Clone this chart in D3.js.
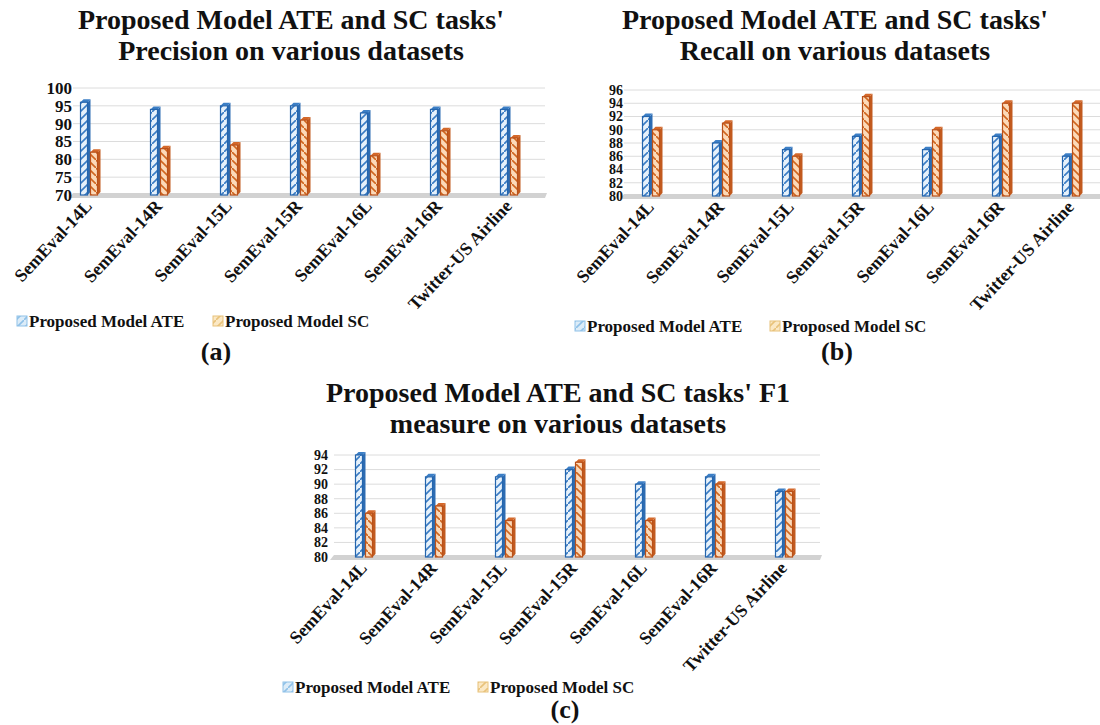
<!DOCTYPE html>
<html lang="en">
<head>
    <meta charset="UTF-8">
    <title>Proposed Model ATE and SC tasks</title>
    <script src="https://d3js.org/d3.v7.min.js"></script>
    <style>
        body { margin: 0; background: #fff; }
        text {
            font-family: "Liberation Serif", "Times New Roman", serif;
            font-weight: bold;
            fill: #111;
        }
        .grid line { stroke: #dcdcdc; stroke-width: 1; }
    </style>
</head>
<body>
    <svg width="1100" height="725"></svg>

    <script>
        // datasets shared by the three panels
        const categories = ["SemEval-14L", "SemEval-14R", "SemEval-15L", "SemEval-15R",
                            "SemEval-16L", "SemEval-16R", "Twitter-US Airline"];
        const seriesNames = ["Proposed Model ATE", "Proposed Model SC"];

        // values
        const precisionATE = [96, 94, 95, 95, 93, 94, 94];
        const precisionSC  = [82, 83, 84, 91, 81, 88, 86];
        const recallATE    = [92, 88, 87, 89, 87, 89, 86];
        const recallSC     = [90, 91, 86, 95, 90, 94, 94];
        const f1ATE        = [94, 91, 91, 92, 90, 91, 89];
        const f1SC         = [86, 87, 85, 93, 85, 90, 89];

        const precisionTicks = [70, 75, 80, 85, 90, 95, 100];
        const recallTicks    = [80, 82, 84, 86, 88, 90, 92, 94, 96];
        const f1Ticks        = [80, 82, 84, 86, 88, 90, 92, 94];

        const svg = d3.select("svg");
        const defs = svg.append("defs");

        // hatch patterns for the bars
        function hatch(id, bg, stroke, dir) {
            const p = defs.append("pattern")
                .attr("id", id)
                .attr("patternUnits", "userSpaceOnUse")
                .attr("width", 8).attr("height", 8);
            p.append("rect").attr("width", 8).attr("height", 8).attr("fill", bg);
            const path = dir > 0 ? "M-2,10 L10,-2" : "M-2,-2 L10,10";
            p.append("path").attr("d", path).attr("stroke", stroke).attr("stroke-width", 1.6);
        }
        hatch("hatchBlue", "#e6f1fb", "#3a7cc4", 1);
        hatch("hatchOrange", "#fcd9b8", "#d0661f", -1);
        hatch("legBlue", "#dcecf8", "#8fc1e8", 1);
        hatch("legOrange", "#fbe8c4", "#e8c27a", 1);

        const styles = [
            { fill: "url(#hatchBlue)", edge: "#2565ad", top: "#3c7fc6", side: "#2d6cb3", leg: "url(#legBlue)", legEdge: "#8fc1e8" },
            { fill: "url(#hatchOrange)", edge: "#b9501a", top: "#d4682a", side: "#c25a1f", leg: "url(#legOrange)", legEdge: "#e8c27a" }
        ];

        const panels = [
            {
                title: ["Proposed Model ATE and SC tasks'", "Precision on various datasets"],
                titleX: 291, titleY: [29, 60],
                series: [precisionATE, precisionSC], ticks: precisionTicks, tickSize: 17,
                x0: 55, x1: 545, gridX: 73, yTop: 88, yBottom: 195, tickX: 72,
                legendY: 327, legendX: [17, 213], tag: "(a)", tagX: 216, tagY: 360
            },
            {
                title: ["Proposed Model ATE and SC tasks'", "Recall on various datasets"],
                titleX: 835, titleY: [29, 60],
                series: [recallATE, recallSC], ticks: recallTicks, tickSize: 14,
                x0: 617, x1: 1107, gridX: 624, yTop: 90, yBottom: 196, tickX: 623,
                legendY: 332, legendX: [575, 770], tag: "(b)", tagX: 837, tagY: 360
            },
            {
                title: ["Proposed Model ATE and SC tasks' F1", "measure on various datasets"],
                titleX: 558, titleY: [402, 433],
                series: [f1ATE, f1SC], ticks: f1Ticks, tickSize: 14,
                x0: 330, x1: 820, gridX: 334, yTop: 455, yBottom: 557, tickX: 328,
                legendY: 693, legendX: [283, 478], tag: "(c)", tagX: 565, tagY: 718
            }
        ];

        panels.forEach(drawPanel);

        function drawPanel(cfg) {
            const g = svg.append("g");

            // title
            g.selectAll(".title")
                .data(cfg.title)
                .enter().append("text")
                .attr("x", cfg.titleX)
                .attr("y", (d, i) => cfg.titleY[i])
                .attr("text-anchor", "middle")
                .style("font-size", "28px")
                .text(d => d);

            const x = d3.scaleBand()
                .domain(categories)
                .range([cfg.x0, cfg.x1]);

            const xs = d3.scaleBand()
                .domain([0, 1])
                .range([-10, 10]);

            const y = d3.scaleLinear()
                .domain(d3.extent(cfg.ticks))
                .range([cfg.yBottom, cfg.yTop]);

            // gridlines
            g.append("g").attr("class", "grid")
                .selectAll("line")
                .data(cfg.ticks.slice(1))
                .enter().append("line")
                .attr("x1", cfg.gridX).attr("x2", cfg.x1)
                .attr("y1", d => y(d)).attr("y2", d => y(d));

            // floor
            const yb = y(cfg.ticks[0]);
            g.append("path")
                .attr("d", `M${cfg.gridX - 4},${yb + 3} L${cfg.x1},${yb + 3} L${cfg.x1 + 2},${yb - 2} L${cfg.gridX},${yb - 2} Z`)
                .attr("fill", "#d2d2d2");

            // y tick labels
            g.selectAll(".tick")
                .data(cfg.ticks)
                .enter().append("text")
                .attr("x", cfg.tickX)
                .attr("y", d => y(d))
                .attr("dy", "0.35em")
                .attr("text-anchor", "end")
                .style("font-size", cfg.tickSize + "px")
                .text(d => d);

            // bars (simple 3D boxes)
            const depth = 3, w = 7;
            cfg.series.forEach((vals, s) => {
                const st = styles[s];
                const bars = g.append("g")
                    .selectAll("g")
                    .data(vals.map((v, i) => ({ cat: categories[i], v })))
                    .enter().append("g");

                bars.append("path")
                    .attr("d", d => {
                        const bx = x(d.cat) + x.bandwidth() / 2 + xs(s) + 0.5;
                        const top = y(d.v);
                        return `M${bx + w},${top} L${bx + w + depth},${top - depth} L${bx + w + depth},${yb - depth} L${bx + w},${yb} Z`;
                    })
                    .attr("fill", st.side);

                bars.append("path")
                    .attr("d", d => {
                        const bx = x(d.cat) + x.bandwidth() / 2 + xs(s) + 0.5;
                        const top = y(d.v);
                        return `M${bx},${top} L${bx + depth},${top - depth} L${bx + w + depth},${top - depth} L${bx + w},${top} Z`;
                    })
                    .attr("fill", st.top);

                bars.append("rect")
                    .attr("x", d => x(d.cat) + x.bandwidth() / 2 + xs(s) + 0.5)
                    .attr("y", d => y(d.v))
                    .attr("width", w)
                    .attr("height", d => yb - y(d.v))
                    .attr("fill", st.fill)
                    .attr("stroke", st.edge)
                    .attr("stroke-width", 1.2);
            });

            // category labels
            g.selectAll(".cat")
                .data(categories)
                .enter().append("text")
                .attr("text-anchor", "end")
                .attr("transform", d => `translate(${x(d) + x.bandwidth() / 2 + 3},${yb + 12}) rotate(-47)`)
                .style("font-size", "18px")
                .text(d => d);

            // legend
            seriesNames.forEach((name, s) => {
                const lx = cfg.legendX[s];
                g.append("rect")
                    .attr("x", lx).attr("y", cfg.legendY - 11)
                    .attr("width", 10).attr("height", 10)
                    .attr("fill", styles[s].leg)
                    .attr("stroke", styles[s].legEdge);
                g.append("text")
                    .attr("x", lx + 12).attr("y", cfg.legendY)
                    .style("font-size", "17px")
                    .text(name);
            });

            g.append("text")
                .attr("x", cfg.tagX).attr("y", cfg.tagY)
                .attr("text-anchor", "middle")
                .style("font-size", "26px")
                .text(cfg.tag);
        }
    </script>
</body>
</html>
